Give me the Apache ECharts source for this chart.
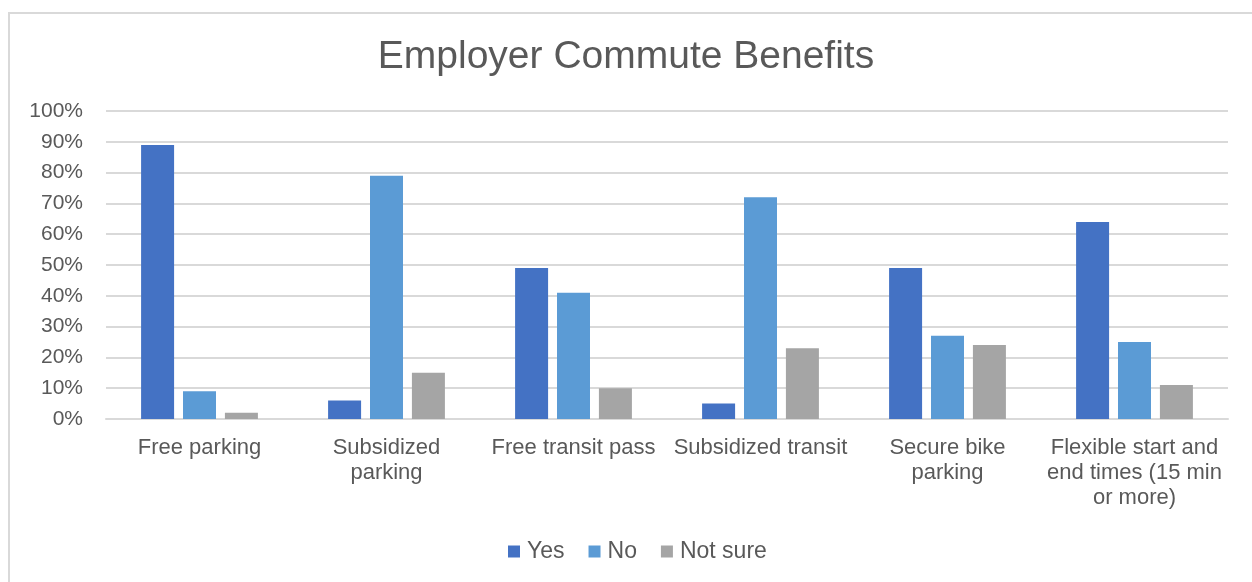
<!DOCTYPE html>
<html>
<head>
<meta charset="utf-8">
<title>Employer Commute Benefits</title>
<script src="https://cdn.jsdelivr.net/npm/echarts@6/dist/echarts.min.js"></script>
<style>
  html, body { margin: 0; padding: 0; background: #ffffff; }
  #chart { width: 1252px; height: 582px; }
</style>
</head>
<body>
<div id="chart"></div>
<script>
// Survey answers: share of respondents per commute benefit (percent)
const categories = [
  'Free parking',
  'Subsidized\nparking',
  'Free transit pass',
  'Subsidized transit',
  'Secure bike\nparking',
  'Flexible start and\nend times (15 min\nor more)'
];
const yesValues     = [89, 6, 49, 5, 49, 64];
const noValues      = [9, 79, 41, 72, 27, 25];
const notSureValues = [2, 15, 10, 23, 24, 11];
const seriesNames = ['Yes', 'No', 'Not sure'];
const yTicks = [0, 10, 20, 30, 40, 50, 60, 70, 80, 90, 100];

const FONT = '"Liberation Sans", Arial, sans-serif';
const TEXT = '#595959';
const GRID_LINE = '#d9d9d9';
const COLORS = ['#4472C4', '#5B9BD5', '#A5A5A5'];

const chart = echarts.init(document.getElementById('chart'), null, { renderer: 'canvas' });

function barSeries(name, data, color) {
  return {
    name: name,
    type: 'bar',
    data: data,
    barWidth: 33,
    barGap: '27%',
    itemStyle: { color: color },
    emphasis: { disabled: true }
  };
}

chart.setOption({
  backgroundColor: '#ffffff',
  animation: false,
  textStyle: { fontFamily: FONT },
  graphic: [{
    type: 'rect',
    silent: true,
    shape: { x: 9, y: 13, width: 1260, height: 600 },
    style: { fill: 'none', stroke: GRID_LINE, lineWidth: 2 }
  }],
  title: {
    text: 'Employer Commute Benefits',
    left: 'center',
    top: 38,
    padding: 0,
    textStyle: { fontFamily: FONT, fontSize: 39, fontWeight: 'normal', color: TEXT }
  },
  legend: {
    data: seriesNames,
    left: 503,
    top: 535,
    itemWidth: 12,
    itemHeight: 12,
    itemGap: 24,
    icon: 'rect',
    textStyle: { fontFamily: FONT, fontSize: 23, color: TEXT, padding: [0, 0, 0, 2] }
  },
  grid: { left: 106, right: 24, top: 111, bottom: 163, containLabel: false },
  xAxis: {
    type: 'category',
    data: categories,
    axisTick: { show: false },
    axisLine: { show: true, lineStyle: { color: GRID_LINE, width: 2 } },
    axisLabel: {
      interval: 0,
      margin: 16,
      fontFamily: FONT,
      fontSize: 22,
      lineHeight: 25,
      color: TEXT,
      align: 'center'
    }
  },
  yAxis: {
    type: 'value',
    min: yTicks[0],
    max: yTicks[yTicks.length - 1],
    interval: 10,
    axisLine: { show: false },
    axisTick: { show: false },
    splitLine: { lineStyle: { color: GRID_LINE, width: 2 } },
    axisLabel: {
      margin: 23,
      fontFamily: FONT,
      fontSize: 21,
      color: TEXT,
      formatter: function (v) { return v + '%'; }
    }
  },
  series: [
    barSeries(seriesNames[0], yesValues, COLORS[0]),
    barSeries(seriesNames[1], noValues, COLORS[1]),
    barSeries(seriesNames[2], notSureValues, COLORS[2])
  ]
});
</script>
</body>
</html>
